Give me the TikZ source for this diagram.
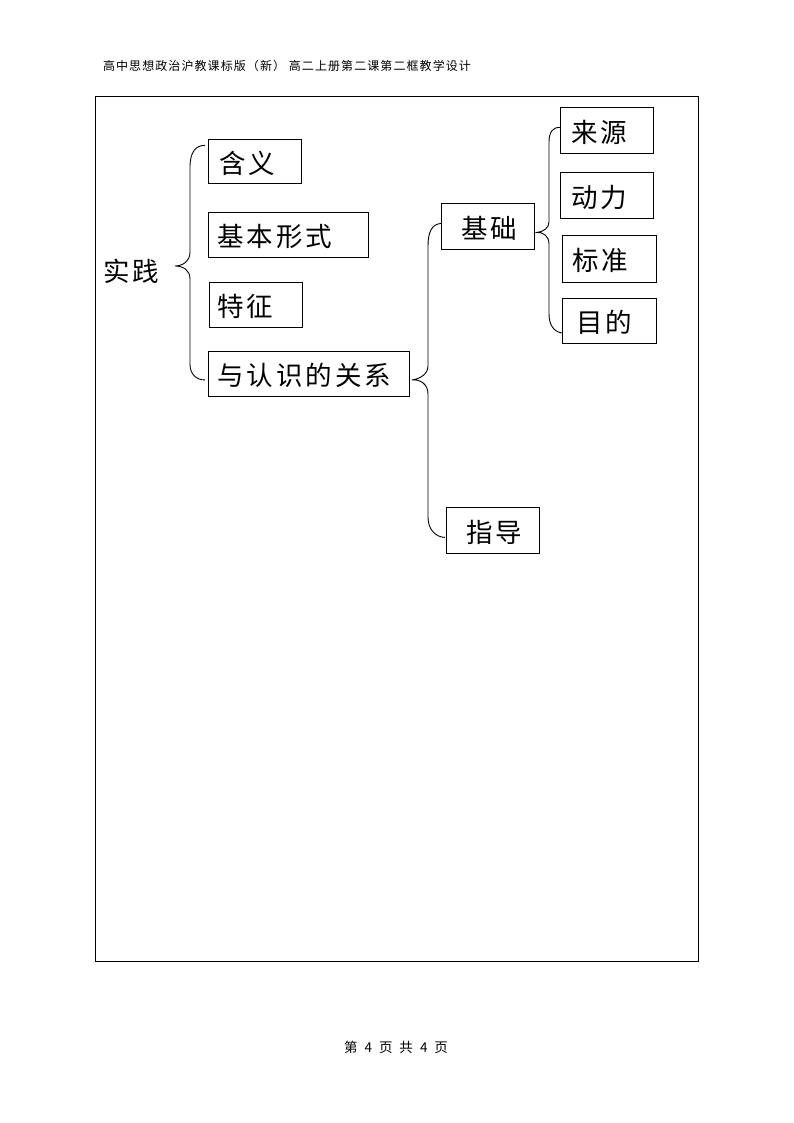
\documentclass[tikz,border=0pt]{standalone}
\usepackage{fontspec}
\setmainfont{Noto Sans CJK SC}
\newfontfamily\bigcjk[LetterSpace=11]{Noto Sans CJK SC}
\newfontfamily\hdrcjk[LetterSpace=9]{Noto Sans CJK SC}
\usetikzlibrary{calc}
\begin{document}
\begin{tikzpicture}[x=1pt,y=-1pt,
  box/.style={draw, line width=0.9pt, inner xsep=0pt, inner ysep=0pt, anchor=north west, align=left, font=\bigcjk\fontsize{26.5}{27}\selectfont, text height=27pt, text depth=3pt},
  brace/.style={draw, line width=0.9pt},
  lbl/.style={inner sep=0pt, font=\bigcjk\fontsize{26.5}{27}\selectfont}]
\useasboundingbox (0,0) rectangle (794,1123);
\fill[white] (0,0) rectangle (794,1123);
% header and footer
\node[inner sep=0pt, font=\hdrcjk\fontsize{12}{12}\selectfont] (hdr) at (287,66) {高中思想政治沪教课标版（新） 高二上册第二课第二框教学设计};
\node[inner sep=0pt, font=\fontsize{13.5}{14}\selectfont] (ftr) at (396,1047) {第\hspace{7pt}4\hspace{7pt}页\hspace{7pt}共\hspace{7pt}4\hspace{7pt}页};
% frame
\node[draw, line width=0.8pt, inner sep=0pt, anchor=north west, minimum width=603, minimum height=865] (frame) at (95,96) {};
% nodes
\node[lbl, anchor=west] (sj) at (103,271) {实践};
\node[box, text width=93, minimum height=44] (hy) at (208,139) {\hspace*{11pt}含义};
\node[box, text width=160, minimum height=45] (jb) at (208,212) {\hspace*{9pt}基本形式};
\node[box, text width=93, minimum height=45] (tz) at (209,282) {\hspace*{8pt}特征};
\node[box, text width=201, minimum height=45] (gx) at (208,351) {\hspace*{9pt}与认识的关系};
\node[box, text width=93, minimum height=46] (jc) at (441,203) {\hspace*{20pt}基础};
\node[box, text width=93, minimum height=46] (ly) at (560,107) {\hspace*{11pt}来源};
\node[box, text width=93, minimum height=46] (dl) at (560,172) {\hspace*{11pt}动力};
\node[box, text width=94, minimum height=47] (bz) at (562,235) {\hspace*{10pt}标准};
\node[box, text width=94, minimum height=45] (md) at (562,298) {\hspace*{14pt}目的};
\node[box, text width=93, minimum height=46] (zd) at (446,507) {\hspace*{20pt}指导};
% brace 1
\coordinate (b1t) at ($(hy.west)+(-3,-16)$);
\coordinate (b1m) at (175,266);
\coordinate (b1b) at ($(gx.west)+(-3,6)$);
\draw[brace] (b1t) .. controls (196,145) and (190,152) .. (190,167)
  -- (190,252) .. controls (190,261) and (183,266) .. (b1m)
  .. controls (183,266) and (190,270) .. (190,279)
  -- (190,364) .. controls (190,374) and (196,380) .. (b1b);
% brace 2
\coordinate (b2t) at ($(jc.west)+(0,-3)$);
\coordinate (b2m) at ($(gx.east)+(2,6)$);
\coordinate (b2b) at ($(zd.west)+(-1,7)$);
\draw[brace] (b2t) .. controls (432,224) and (428,232) .. (428,246)
  -- (428,366) .. controls (428,374) and (420,379) .. (b2m)
  .. controls (420,379) and (428,384) .. (428,394)
  -- (428,517) .. controls (428,529) and (435,537) .. (b2b);
% brace 3
\coordinate (b3t) at ($(ly.west)+(0,-3)$);
\coordinate (b3m) at ($(jc.east)+(2,6)$);
\coordinate (b3b) at ($(md.west)+(0,12)$);
\draw[brace] (b3t) .. controls (553,127) and (549,132) .. (549,142)
  -- (549,222) .. controls (549,228) and (543,232) .. (b3m)
  .. controls (543,232) and (549,236) .. (549,244)
  -- (549,314) .. controls (549,325) and (554,332) .. (b3b);
\end{tikzpicture}
\end{document}
